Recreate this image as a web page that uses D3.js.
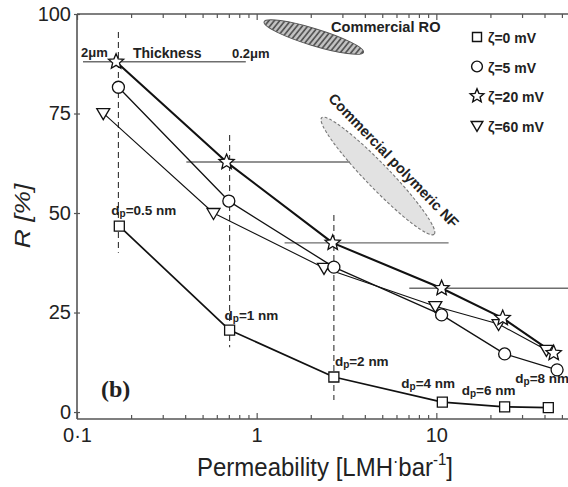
<!DOCTYPE html>
<html>
<head>
<meta charset="utf-8">
<script src="https://cdn.jsdelivr.net/npm/d3@7"></script>
<style>
  body { margin: 0; background: #fff; }
  svg { display: block; font-family: "Liberation Sans", Arial, sans-serif; }
</style>
</head>
<body>
<svg id="chart" width="568" height="487"></svg>
<script>
// Pore diameters (one point per pore size on every curve)
const dpLabels = ["0.5", "1", "2", "4", "6", "8"];

// Permeability [LMH/bar] and rejection R [%] for each zeta potential
const seriesNames = ["ζ=0 mV", "ζ=5 mV", "ζ=20 mV", "ζ=60 mV"];
const permZeta0  = [0.172, 0.707, 2.69, 10.8, 24, 42];
const rejZeta0   = [46.7, 20.6, 8.8, 2.5, 1.3, 1.1];
const permZeta5  = [0.17, 0.70, 2.69, 10.7, 24, 47];
const rejZeta5   = [81.6, 53, 36.4, 24.4, 14.6, 10.6];
const permZeta20 = [0.165, 0.68, 2.65, 10.7, 23.4, 45];
const rejZeta20  = [88, 62.8, 42.5, 31.1, 23.6, 14.8];
const permZeta60 = [0.14, 0.575, 2.37, 9.87, 22.2, 41];
const rejZeta60  = [75.1, 50, 36.2, 26.6, 22.1, 15.6];

// Membrane thickness guides: from / to permeability at a rejection level
const thickFrom  = [0.108, 0.406, 1.43, 7.07];
const thickTo    = [0.87, 3.3, 11.7, 100];
const thickLevel = [88, 62.8, 42.5, 31.1];

// Vertical dashed guides at the first pore sizes
const guidePerm  = [0.17, 0.707, 2.69];
const guideTop   = [95.5, 69.6, 49.5];
const guideBot   = [40, 16.3, 3];

// Axis ticks
const xMajorTicks = [0.1, 1, 10, 100];
const xTickLabels = ["0·1", "1", "10", ""];
const yTicks = [0, 25, 50, 75, 100];

const svg = d3.select("#chart");
svg.append("rect").attr("width", 568).attr("height", 487).attr("fill", "#fff");

const x = d3.scaleLog().domain([0.1, 100]).range([77, 616]);
const y = d3.scaleLinear().domain([-1.75, 100]).range([419, 14]);

const axisColor = "#555";

// Hatch pattern for the RO region
const defs = svg.append("defs");
const pat = defs.append("pattern")
  .attr("id", "hatch").attr("patternUnits", "userSpaceOnUse")
  .attr("width", 4.2).attr("height", 4.2)
  .attr("patternTransform", "rotate(22)");
pat.append("rect").attr("width", 4.2).attr("height", 4.2).attr("fill", "#c4c4c4");
pat.append("line").attr("x1", 1).attr("y1", 0).attr("x2", 1).attr("y2", 4.2)
  .attr("stroke", "#4a4a4a").attr("stroke-width", 1.6);

// Commercial RO region
svg.append("ellipse")
  .attr("transform", `translate(${x(2.08)},${y(94.2)}) rotate(17)`)
  .attr("rx", 52).attr("ry", 8.5)
  .attr("fill", "url(#hatch)").attr("stroke", "#555").attr("stroke-width", 1);

// Commercial polymeric NF region
svg.append("ellipse")
  .attr("transform", `translate(${x(4.73)},${y(59.3)}) rotate(46)`)
  .attr("rx", 81).attr("ry", 12)
  .attr("fill", "#e2e2e2").attr("stroke", "#777").attr("stroke-width", 1.1)
  .attr("stroke-dasharray", "3,2");

// Axes
const minorTicks = [];
[0.1, 1, 10].forEach(d => { for (let k = 2; k <= 9; k++) minorTicks.push(d * k); });

const gBottomMinor = svg.append("g").attr("transform", "translate(0,419)")
  .call(d3.axisBottom(x).tickValues(minorTicks).tickSize(-4).tickFormat(""));
const gBottom = svg.append("g").attr("transform", "translate(0,419)")
  .call(d3.axisBottom(x).tickValues(xMajorTicks).tickSize(-6).tickPadding(9)
    .tickFormat((d, i) => xTickLabels[i]));
const gTopMinor = svg.append("g").attr("transform", "translate(0,14)")
  .call(d3.axisTop(x).tickValues(minorTicks).tickSize(-4).tickFormat(""));
const gTop = svg.append("g").attr("transform", "translate(0,14)")
  .call(d3.axisTop(x).tickValues(xMajorTicks).tickSize(-6).tickFormat(""));
const gLeft = svg.append("g").attr("transform", `translate(${x(0.1)},0)`)
  .call(d3.axisLeft(y).tickValues(yTicks).tickSize(3).tickPadding(3));

[gBottomMinor, gBottom, gTopMinor, gTop, gLeft].forEach(g => {
  g.attr("font-family", null).attr("font-size", null);
  g.select(".domain").remove();
  g.selectAll(".tick line").attr("stroke", axisColor).attr("stroke-width", 1.2);
  g.selectAll(".tick text").attr("fill", "#222").attr("font-size", 20);
});
// inner half of the y ticks
gLeft.selectAll(".tick").append("line").attr("x1", 0).attr("x2", 3)
  .attr("stroke", axisColor).attr("stroke-width", 1.2);

// Frame lines
const frame = svg.append("g").attr("stroke", axisColor).attr("stroke-width", 1.6).attr("fill", "none");
frame.append("line").attr("x1", x(0.1)).attr("x2", x(0.1)).attr("y1", y(100)).attr("y2", y(-1.75));
frame.append("line").attr("x1", x(0.1)).attr("x2", 568).attr("y1", y(-1.75)).attr("y2", y(-1.75));
frame.append("line").attr("x1", x(0.1)).attr("x2", 568).attr("y1", y(100)).attr("y2", y(100));

// Thickness guides
svg.append("g").selectAll("line").data(thickLevel).join("line")
  .attr("x1", (d, i) => x(thickFrom[i])).attr("x2", (d, i) => x(thickTo[i]))
  .attr("y1", d => y(d)).attr("y2", d => y(d))
  .attr("stroke", "#6e6e6e").attr("stroke-width", 1.4);

// Dashed pore-size guides
svg.append("g").selectAll("line").data(guidePerm).join("line")
  .attr("x1", d => x(d)).attr("x2", d => x(d))
  .attr("y1", (d, i) => y(guideTop[i])).attr("y2", (d, i) => y(guideBot[i]))
  .attr("stroke", "#333").attr("stroke-width", 1.1).attr("stroke-dasharray", "6,4");

// Marker shapes
const starPath = (ro, ri) => {
  const pts = [];
  for (let k = 0; k < 10; k++) {
    const r = k % 2 ? ri : ro;
    const a = -Math.PI / 2 + k * Math.PI / 5;
    pts.push([r * Math.cos(a), r * Math.sin(a)]);
  }
  return "M" + pts.map(p => p.join(",")).join("L") + "Z";
};
const markers = [
  s => `M${-5 * s},${-5 * s}H${5 * s}V${5 * s}H${-5 * s}Z`,
  s => d3.arc()({ innerRadius: 0, outerRadius: 6 * s, startAngle: 0, endAngle: 2 * Math.PI }),
  s => starPath(8 * s, 3.6 * s),
  s => `M${-6.5 * s},${-4.5 * s}L${6.5 * s},${-4.5 * s}L0,${6.5 * s}Z`
];

const series = [
  { name: seriesNames[0], perm: permZeta0, rej: rejZeta0, width: 1.7 },
  { name: seriesNames[1], perm: permZeta5, rej: rejZeta5, width: 1.3 },
  { name: seriesNames[2], perm: permZeta20, rej: rejZeta20, width: 2.1 },
  { name: seriesNames[3], perm: permZeta60, rej: rejZeta60, width: 1.1 }
];

const line = d3.line().x(d => x(d[0])).y(d => y(d[1]));

// Lines drawn below all markers
const drawOrder = [3, 1, 2, 0];
drawOrder.forEach(i => {
  const s = series[i];
  svg.append("path").datum(s.perm.map((p, j) => [p, s.rej[j]]))
    .attr("d", line).attr("fill", "none").attr("stroke", "#111")
    .attr("stroke-width", s.width).attr("stroke-linejoin", "round");
});
drawOrder.forEach(i => {
  const s = series[i];
  svg.append("g").selectAll("path").data(s.perm.map((p, j) => [p, s.rej[j]])).join("path")
    .attr("transform", d => `translate(${x(d[0])},${y(d[1])})`)
    .attr("d", markers[i](1))
    .attr("fill", "#fff").attr("stroke", "#111").attr("stroke-width", 1.3);
});

// Pore-diameter labels placed beside the ζ=0 points
const dpNudge = [[-8, -11], [-5, -10], [1, -11], [-41, -14], [-43, -12], [-33, -25]];
const dpG = svg.append("g").attr("font-size", 13.5).attr("font-weight", "bold").attr("fill", "#222");
dpLabels.forEach((lab, i) => {
  const t = dpG.append("text")
    .attr("x", x(permZeta0[i]) + dpNudge[i][0])
    .attr("y", y(rejZeta0[i]) + dpNudge[i][1]);
  t.append("tspan").text("d");
  t.append("tspan").attr("font-size", 10).attr("dy", 2).text("p");
  t.append("tspan").attr("dy", -2).text(`=${lab} nm`);
});

// Annotations
const ann = svg.append("g").attr("font-weight", "bold").attr("fill", "#222");
ann.append("text").attr("x", 81).attr("y", 57).attr("font-size", 13).text("2μm");
ann.append("text").attr("x", 133).attr("y", 58).attr("font-size", 14).text("Thickness");
ann.append("text").attr("x", 232).attr("y", 58).attr("font-size", 13).text("0.2μm");
ann.append("text").attr("x", 331).attr("y", 32).attr("font-size", 14.6).text("Commercial RO");
ann.append("text").attr("text-anchor", "middle").attr("font-size", 14.6)
  .attr("transform", "translate(390,164) rotate(46)").text("Commercial polymeric NF");
ann.append("text").attr("x", 101).attr("y", 397).attr("font-size", 24)
  .style("font-family", "'Liberation Serif', 'Times New Roman', serif").text("(b)");

// Legend
const legend = svg.append("g");
series.forEach((s, i) => {
  const cy = 37 + i * 29.5;
  legend.append("path").attr("transform", `translate(477,${cy})`)
    .attr("d", markers[i](0.9)).attr("fill", "#fff").attr("stroke", "#111").attr("stroke-width", 1.4);
  legend.append("text").attr("x", 488).attr("y", cy + 6).attr("font-size", 14)
    .attr("font-weight", "bold").attr("fill", "#222").text(s.name);
});

// Axis titles
svg.append("text").attr("transform", "translate(30,216) rotate(-90) scale(1.2,1)")
  .attr("text-anchor", "middle").attr("font-size", 22).attr("font-style", "italic")
  .attr("fill", "#222").text("R [%]");
const xt = svg.append("text").attr("transform", "translate(325,476) scale(1,1.1)")
  .attr("text-anchor", "middle").attr("font-size", 24).attr("fill", "#222");
xt.append("tspan").text("Permeability [LMH");
xt.append("tspan").attr("font-size", 16).attr("dy", -8).text("·");
xt.append("tspan").attr("dy", 8).text("bar");
xt.append("tspan").attr("font-size", 15).attr("dy", -10).text("-1");
xt.append("tspan").attr("dy", 10).text("]");
</script>
</body>
</html>
